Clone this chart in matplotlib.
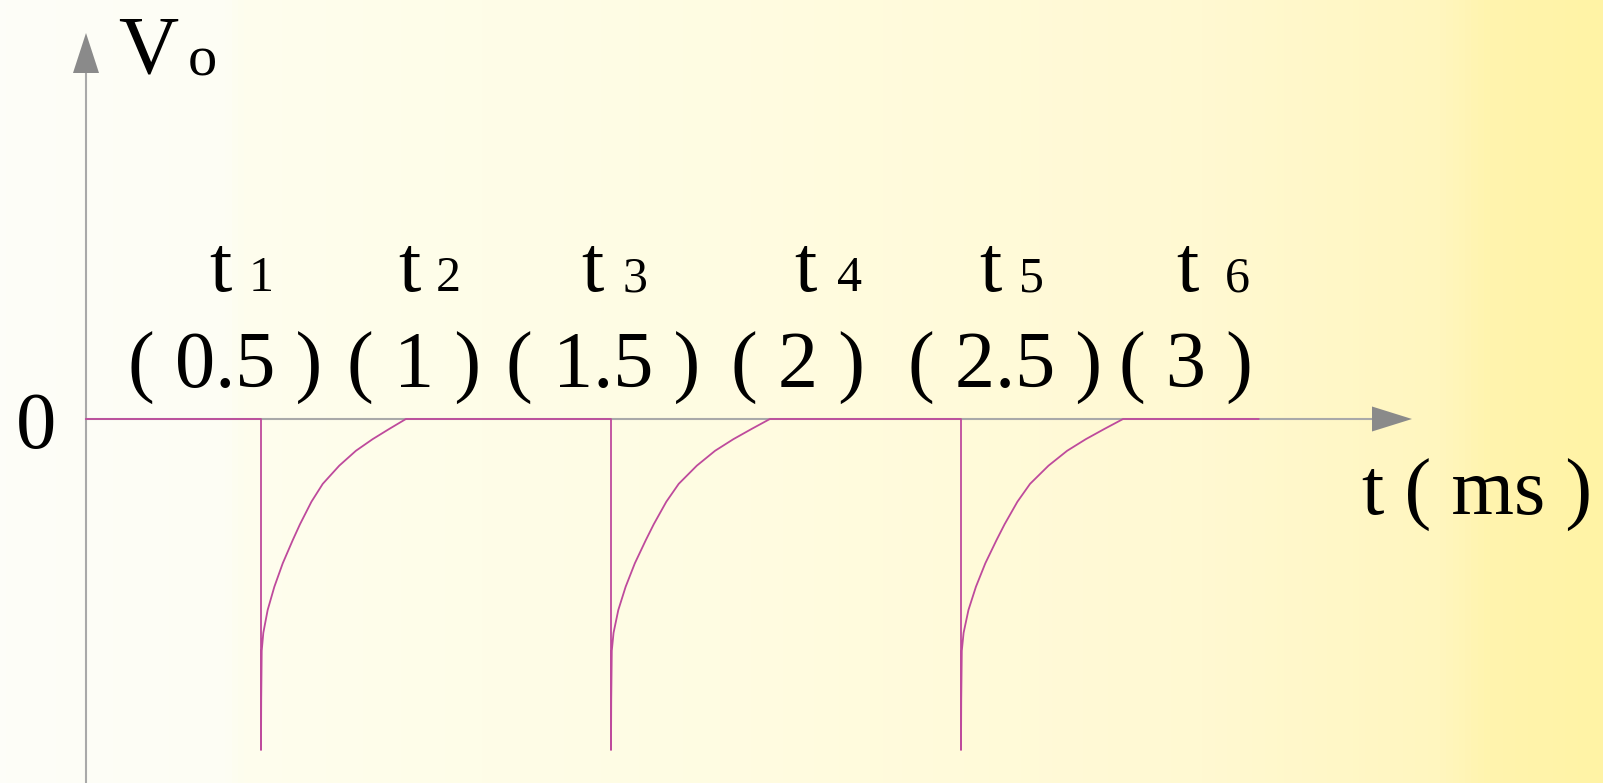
import numpy as np
import matplotlib
matplotlib.use('Agg')
import matplotlib.pyplot as plt
from matplotlib.colors import LinearSegmentedColormap
from matplotlib.patches import Polygon

W, H = 1603, 783

# 脉冲时刻 (ms)
spike_times = [0.5, 1.5, 2.5]
# 每个脉冲回升到 0 所需时间 (ms)
decay_width = [0.414, 0.454, 0.463]
# 负尖脉冲幅值 (归一化)
spike_depth = -1.0
# 回升段形状: 占回升时间的比例, 归一化电压
decay_frac = [0.0, 0.0014, 0.005, 0.016, 0.046, 0.092, 0.150, 0.219, 0.269,
              0.348, 0.426, 0.540, 0.655, 0.770, 0.885, 1.0]
decay_v = [-1.0, -0.85, -0.70, -0.646, -0.577, -0.507, -0.436, -0.366, -0.318,
           -0.250, -0.196, -0.141, -0.096, -0.061, -0.030, 0.0]
t_end = 3.35

sub_labels = ['1', '2', '3', '4', '5', '6']
time_labels = ['( 0.5 )', '( 1 )', '( 1.5 )', '( 2 )', '( 2.5 )', '( 3 )']

# 像素布局
x0_px, px_per_ms = 86, 350
y0_px, px_per_v = 419, 331
t_x = [220, 409, 592, 805, 990, 1187]
sub_x = [261, 448, 635, 849, 1031, 1237]
lab_x = [225, 414, 603, 798, 1005, 1186]

font = 'Liberation Serif'

fig = plt.figure(figsize=(W / 100, H / 100), dpi=100)

# 背景层 (像素坐标)
bg = fig.add_axes([0, 0, 1, 1])
bg.set_xlim(0, W)
bg.set_ylim(H, 0)
bg.axis('off')
cmap = LinearSegmentedColormap.from_list('bgy', [
    (0.0, '#FDFDF8'), (0.14, '#FDFDF4'), (0.15, '#FEFEEE'), (0.45, '#FFFCE2'),
    (0.75, '#FFF9D2'), (0.90, '#FFF6BF'), (0.93, '#FFF4AE'), (1.0, '#FFF3A5')])
bg.imshow(np.linspace(0, 1, 512)[None, :], cmap=cmap, aspect='auto',
          extent=(0, W, H, 0), zorder=0)

# 坐标轴及箭头
axis_c = '#A9A9A9'
head_c = '#8A8A8A'
bg.plot([x0_px, x0_px], [H, 72], color=axis_c, lw=1.5, zorder=1)
bg.plot([x0_px, 1372], [y0_px, y0_px], color=axis_c, lw=1.5, zorder=1)
bg.add_patch(Polygon([(x0_px - 13, 73), (x0_px + 13, 73), (x0_px, 33)],
                     closed=True, color=head_c, lw=0, zorder=2))
bg.add_patch(Polygon([(1372, y0_px - 12.5), (1372, y0_px + 12.5), (1412, y0_px)],
                     closed=True, color=head_c, lw=0, zorder=2))

# 文字
bg.text(118, 72, 'V', fontsize=60, family=font, ha='left', va='baseline')
bg.text(188, 76, 'o', fontsize=42, family=font, ha='left', va='baseline')
bg.text(36, 448, '0', fontsize=58, family=font, ha='center', va='baseline')
bg.text(1362, 515, 't ( ms )', fontsize=58, family=font, ha='left', va='baseline')
for tx, sx, lx, s, lab in zip(t_x, sub_x, lab_x, sub_labels, time_labels):
    bg.text(tx, 291, 't', fontsize=58, family=font, ha='center', va='baseline')
    bg.text(sx, 291, s, fontsize=36, family=font, ha='center', va='baseline')
    bg.text(lx, 388, lab, fontsize=58, family=font, ha='center', va='baseline')

# 波形 (数据坐标: ms / 归一化电压)
ax = fig.add_axes([0, 0, 1, 1])
ax.patch.set_alpha(0)
ax.set_xlim(-x0_px / px_per_ms, (W - x0_px) / px_per_ms)
ax.set_ylim(-(H - y0_px) / px_per_v, y0_px / px_per_v)
ax.axis('off')

t = [0.0]
v = [0.0]
for ts, w in zip(spike_times, decay_width):
    t += [ts, ts]
    v += [0.0, spike_depth]
    t += [ts + f * w for f in decay_frac]
    v += [-spike_depth * dv for dv in decay_v]
t.append(t_end)
v.append(0.0)
ax.plot(t, v, color='#BE4A9C', lw=1.3, solid_joinstyle='round')

fig.savefig('out.png', dpi=100)
